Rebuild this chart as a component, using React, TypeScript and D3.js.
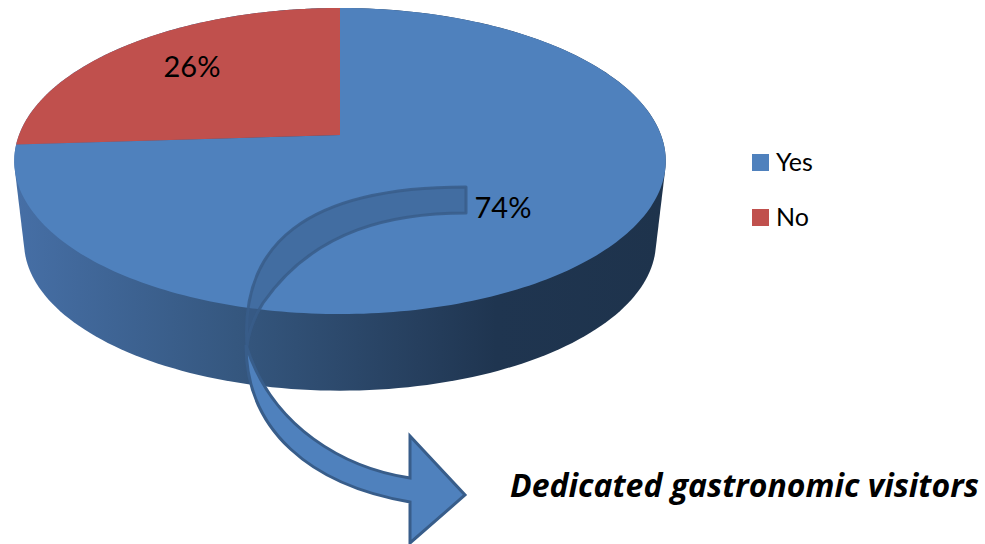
import React from 'react';
import * as d3 from 'd3';

const categories = ['Yes', 'No'];
const shares = [74, 26];
const labels = ['74%', '26%'];
const sliceColors = ['#4f81bd', '#c0504d'];

const width = 985;
const height = 544;
const fontFamily = 'Lato, "Open Sans", sans-serif';

// pie is seen in perspective: the apex sits above the middle of the ellipse
const cx = 340;
const apexY = 135;
const radius = 321;
const tilt = 0.17;
const flatten = 148.6;
const depth = 82;
const baseScale = 0.97;

const project = (angle: number, level: number): [number, number] => {
  const u = Math.sin(angle);
  const v = Math.cos(angle);
  const w = 1 + tilt * v;
  const k = level ? baseScale : 1;
  return [cx + (radius * k * u) / w, apexY + depth * level - (flatten * k * v) / w];
};

const rim = (start: number, end: number, level: number) =>
  d3.range(0, 241).map(i => project(start + ((end - start) * i) / 240, level));

const pieSlices = d3.pie<number>().sort(null)(shares);
const line = d3.line();
const apex: [number, number] = [cx, apexY];

const sidePath =
  line(d3.polygonHull([...rim(0, 2 * Math.PI, 0), ...rim(0, 2 * Math.PI, 1)])!)! + 'Z';

const sideScale = d3
  .scaleLinear<string>()
  .domain([0, 0.34, 0.62, 0.74, 1])
  .range(['#466fa6', '#35577f', '#263f5e', '#1f3550', '#1e334c']);

const gradientStops = [0, 0.34, 0.62, 0.74, 1];

// curved arrow, drawn in two parts because it folds over itself at the pinch
const arrowBack = d3.path();
arrowBack.moveTo(466, 187);
arrowBack.lineTo(466, 213);
arrowBack.bezierCurveTo(395, 213, 315, 228, 263, 303);
arrowBack.bezierCurveTo(254, 317, 249, 331, 247, 346);
arrowBack.bezierCurveTo(240, 245, 305, 187, 466, 187);
arrowBack.closePath();

const arrowFront = d3.path();
arrowFront.moveTo(246, 345);
arrowFront.bezierCurveTo(246, 430, 310, 485, 410, 502);
arrowFront.lineTo(410, 543);
arrowFront.lineTo(465, 495);
arrowFront.lineTo(410, 436);
arrowFront.lineTo(410, 478);
arrowFront.bezierCurveTo(345, 468, 272, 428, 246, 345);
arrowFront.closePath();

const App = () => (
  <svg
    width={width}
    height={height}
    style={{ position: 'absolute', left: 0, top: 0, background: '#fff' }}
    fontFamily={fontFamily}
  >
    <defs>
      <linearGradient id="side-gradient" x1="0" x2="1" y1="0" y2="0">
        {gradientStops.map(s => (
          <stop key={s} offset={s} stopColor={sideScale(s)} />
        ))}
      </linearGradient>
    </defs>

    <path d={sidePath} fill="url(#side-gradient)" />

    {pieSlices.map((s, i) => (
      <path
        key={categories[i]}
        d={line([apex, ...rim(s.startAngle, s.endAngle, 0)])! + 'Z'}
        fill={sliceColors[i]}
      />
    ))}

    <path
      d={arrowBack.toString()}
      fill="#385d8a"
      fillOpacity={0.55}
      stroke="#385d8a"
      strokeWidth={3}
      strokeOpacity={0.85}
      strokeLinejoin="round"
    />
    <path
      d={arrowFront.toString()}
      fill="#4f81bd"
      stroke="#385d8a"
      strokeWidth={3}
      strokeLinejoin="miter"
    />

    <text x={503} y={206} textAnchor="middle" dominantBaseline="central" fontSize={29} fill="#000">
      {labels[0]}
    </text>
    <text x={192} y={65} textAnchor="middle" dominantBaseline="central" fontSize={29} fill="#000">
      {labels[1]}
    </text>

    {categories.map((c, i) => (
      <g key={c} transform={`translate(752,${154 + i * 55})`}>
        <rect width={17} height={17} fill={sliceColors[i]} />
        <text x={24} y={7} dominantBaseline="central" fontSize={25} fill="#000">
          {c}
        </text>
      </g>
    ))}

    <text
      x={510}
      y={497}
      fontFamily='"Open Sans", sans-serif'
      fontSize={32}
      fontWeight={700}
      fontStyle="italic"
      fill="#000"
    >
      Dedicated gastronomic visitors
    </text>
  </svg>
);

export default App;
